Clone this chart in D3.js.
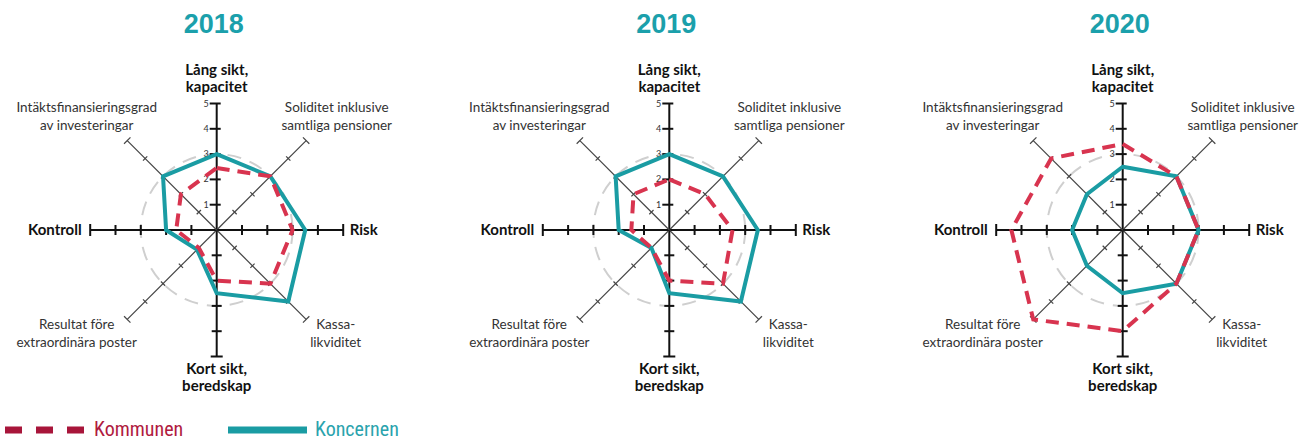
<!DOCTYPE html>
<html>
<head>
<meta charset="utf-8">
<script src="https://cdn.jsdelivr.net/npm/d3@7"></script>
<style>
  body { margin: 0; background: #fff; }
  svg { display: block; }
</style>
</head>
<body>
<div id="chart"></div>
<script>
/*global d3*/
// data, axes clockwise from top
var years = ['2018', '2019', '2020'];
var axisLabels = [
  ['Lång sikt,', 'kapacitet'],
  ['Soliditet inklusive', 'samtliga pensioner'],
  ['Risk'],
  ['Kassa-', 'likviditet'],
  ['Kort sikt,', 'beredskap'],
  ['Resultat före', 'extraordinära poster'],
  ['Kontroll'],
  ['Intäktsfinansieringsgrad', 'av investeringar']
];
var boldAxes = [0, 2, 4, 6];
var scaleTicks = [1, 2, 3, 4, 5];
var kommunen2018 = [2.45, 3, 3, 3, 2, 1, 1.6, 2];
var koncernen2018 = [3, 3, 3.5, 4, 2.5, 1.1, 2, 3];
var kommunen2019 = [2, 2, 2.5, 3, 2, 1, 1.5, 2];
var koncernen2019 = [3, 3, 3.5, 4, 2.5, 1, 2, 3];
var kommunen2020 = [3.4, 3, 3, 3, 4, 5, 4.4, 4];
var koncernen2020 = [2.5, 3, 3, 3, 2.5, 2, 2, 2];
var legendNames = ['Kommunen', 'Koncernen'];

var kommunenByYear = [kommunen2018, kommunen2019, kommunen2020];
var koncernenByYear = [koncernen2018, koncernen2019, koncernen2020];

var width = 1314,
  height = 442,
  centers = [216.7, 669.3, 1122.7],
  cy = 230,
  teal = '#1a9ca3',
  red = '#d8344f',
  titleColor = '#1ba0ab',
  r = d3.scaleLinear().domain([0, 5]).range([0, 126.5]),
  angle = d3.scalePoint().domain(d3.range(8)).range([0, Math.PI * 7 / 4]);

var svg = d3.select('#chart').append('svg')
  .attr('width', width)
  .attr('height', height)
  .style('font-family', 'Lato, "Open Sans", sans-serif');

function pt(i, v) {
  var a = angle(i);
  return [Math.sin(a) * r(v), -Math.cos(a) * r(v)];
}

var line = d3.lineRadial()
  .angle(function (d, i) { return angle(i); })
  .radius(function (d) { return r(d); })
  .curve(d3.curveLinearClosed);

years.forEach(function (year, k) {
  var g = svg.append('g')
    .attr('transform', 'translate(' + centers[k] + ',' + cy + ')');

  svg.append('text')
    .attr('x', centers[k] - 3)
    .attr('y', 33)
    .attr('text-anchor', 'middle')
    .style('font-family', '"Liberation Sans", Arial, sans-serif')
    .style('font-weight', 'bold')
    .style('font-size', '27px')
    .attr('fill', titleColor)
    .text(year);

  // dashed reference circle at 3
  g.append('circle')
    .attr('r', r(3))
    .attr('fill', 'none')
    .attr('stroke', '#cfcfcf')
    .attr('stroke-width', 2)
    .attr('stroke-dasharray', '14,9');

  // axes
  d3.range(8).forEach(function (i) {
    var main = i % 2 === 0,
      a = angle(i),
      end = pt(i, 5),
      ax = g.append('g');
    ax.append('line')
      .attr('x1', 0).attr('y1', 0)
      .attr('x2', end[0]).attr('y2', end[1])
      .attr('stroke', main ? '#111' : '#444')
      .attr('stroke-width', main ? 2 : 1.2);
    // ticks perpendicular to the axis
    scaleTicks.forEach(function (t) {
      var p = pt(i, t),
        len = main ? (t === 5 ? 6 : 5) : (t === 5 ? 4.5 : 3),
        px = Math.cos(a), py = Math.sin(a),
        l1 = len, l2 = len;
      if (i === 0) { l1 = 7; l2 = 4; }
      ax.append('line')
        .attr('x1', p[0] - px * l1).attr('y1', p[1] - py * l1)
        .attr('x2', p[0] + px * l2).attr('y2', p[1] + py * l2)
        .attr('stroke', main ? '#111' : '#444')
        .attr('stroke-width', main ? 2 : 1.2);
    });
  });

  // scale labels on top axis
  g.selectAll('.scale-label')
    .data(scaleTicks)
    .enter()
    .append('text')
    .attr('class', 'scale-label')
    .attr('x', -8)
    .attr('y', function (d) { return -r(d) + 3; })
    .attr('text-anchor', 'end')
    .style('font-size', '9px')
    .attr('fill', '#333')
    .text(function (d) { return d; });

  // series
  g.append('path')
    .datum(koncernenByYear[k])
    .attr('d', line)
    .attr('fill', 'none')
    .attr('stroke', teal)
    .attr('stroke-width', 4)
    .attr('stroke-linejoin', 'miter');

  g.append('path')
    .datum(kommunenByYear[k])
    .attr('d', line)
    .attr('fill', 'none')
    .attr('stroke', red)
    .attr('stroke-width', 4)
    .attr('stroke-dasharray', '13,8');

  // category labels
  var labelPos = [
    {x: 0, y: -160, anchor: 'middle'},
    {x: 120, y: -123, anchor: 'middle'},
    {x: 133, y: 0, anchor: 'start'},
    {x: 119, y: 94, anchor: 'middle'},
    {x: 0, y: 139, anchor: 'middle'},
    {x: -140, y: 94, anchor: 'middle'},
    {x: -135, y: 0, anchor: 'end'},
    {x: -130, y: -123, anchor: 'middle'}
  ];
  axisLabels.forEach(function (lines, i) {
    var bold = boldAxes.indexOf(i) >= 0,
      pos = labelPos[i],
      t = g.append('text')
        .attr('x', pos.x)
        .attr('y', pos.y + 5)
        .attr('text-anchor', pos.anchor)
        .style('font-size', bold ? '15px' : '13.5px')
        .style('font-weight', bold ? 'bold' : 'normal')
        .attr('fill', bold ? '#111' : '#333');
    lines.forEach(function (s, j) {
      t.append('tspan')
        .attr('x', pos.x)
        .attr('dy', j === 0 ? 0 : (bold ? 16.5 : 18))
        .text(s);
    });
  });
});

// legend
var legend = svg.append('g').attr('transform', 'translate(0,430)');
legend.append('line')
  .attr('x1', 5).attr('x2', 84)
  .attr('stroke', '#a8153a')
  .attr('stroke-width', 7)
  .attr('stroke-dasharray', '17,14');
legend.append('text')
  .attr('x', 94).attr('y', 6)
  .style('font-family', '"Liberation Sans Narrow", "Roboto Condensed", Roboto, sans-serif')
  .style('font-size', '20px')
  .attr('fill', '#b01a40')
  .text(legendNames[0]);
legend.append('line')
  .attr('x1', 228).attr('x2', 307)
  .attr('stroke', teal)
  .attr('stroke-width', 7);
legend.append('text')
  .attr('x', 315).attr('y', 6)
  .style('font-family', '"Liberation Sans Narrow", "Roboto Condensed", Roboto, sans-serif')
  .style('font-size', '20px')
  .attr('fill', '#2aa3ad')
  .text(legendNames[1]);
</script>
</body>
</html>
